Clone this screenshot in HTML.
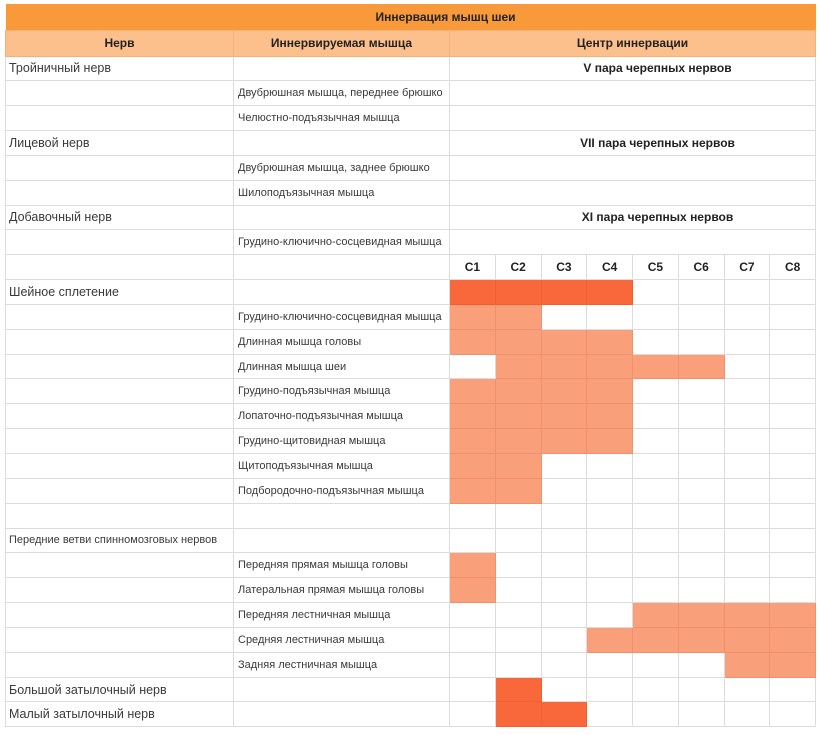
<!DOCTYPE html>
<html><head><meta charset="utf-8"><style>
html,body{margin:0;padding:0;background:#fff;width:819px;height:735px;overflow:hidden}
table{position:absolute;left:5px;top:4px;border-collapse:collapse;table-layout:fixed;width:810px;font-family:"Liberation Sans",sans-serif;color:#3a3a3a}
td{border:1px solid #dcdcdc;padding:0;height:24.85px;box-sizing:border-box;white-space:nowrap;overflow:hidden}
tr.t td{height:26px;background:#f99a3a;border:none;text-align:center;font-weight:bold;font-size:12px;color:#222;padding-left:70px}
tr.h td{height:26px;background:#fcc08c;border-color:#f3b07a;text-align:center;font-weight:bold;font-size:12px;color:#222}
.n{font-size:12.5px;padding-left:3px}
.n2{font-size:11px;padding-left:3px}
.m{font-size:11px;padding-left:4px}
.cr{text-align:center;font-weight:bold;font-size:12px;color:#222;padding-left:50px}
.ch{text-align:center;font-weight:bold;font-size:12px;color:#222}
.d{background:#f9683a;border-color:#f0602e}
.l{background:#f9a07a;border-color:#f09070}
</style></head><body>
<table>
<colgroup><col style="width:228px"><col style="width:216px"><col span="8" style="width:45.75px"></colgroup>
<tr class="t"><td colspan="10">Иннервация мышц шеи</td></tr>
<tr class="h"><td>Нерв</td><td>Иннервируемая мышца</td><td colspan="8">Центр иннервации</td></tr>
<tr><td class="n">Тройничный нерв</td><td></td><td colspan="8" class="cr">V пара черепных нервов</td></tr>
<tr><td></td><td class="m">Двубрюшная мышца, переднее брюшко</td><td colspan="8"></td></tr>
<tr><td></td><td class="m">Челюстно-подъязычная мышца</td><td colspan="8"></td></tr>
<tr><td class="n">Лицевой нерв</td><td></td><td colspan="8" class="cr">VII пара черепных нервов</td></tr>
<tr><td></td><td class="m">Двубрюшная мышца, заднее брюшко</td><td colspan="8"></td></tr>
<tr><td></td><td class="m">Шилоподъязычная мышца</td><td colspan="8"></td></tr>
<tr><td class="n">Добавочный нерв</td><td></td><td colspan="8" class="cr">XI пара черепных нервов</td></tr>
<tr><td></td><td class="m">Грудино-ключично-сосцевидная мышца</td><td colspan="8"></td></tr>
<tr><td></td><td></td><td class="ch">C1</td><td class="ch">C2</td><td class="ch">C3</td><td class="ch">C4</td><td class="ch">C5</td><td class="ch">C6</td><td class="ch">C7</td><td class="ch">C8</td></tr>
<tr><td class="n">Шейное сплетение</td><td></td><td class="d"></td><td class="d"></td><td class="d"></td><td class="d"></td><td></td><td></td><td></td><td></td></tr>
<tr><td></td><td class="m">Грудино-ключично-сосцевидная мышца</td><td class="l"></td><td class="l"></td><td></td><td></td><td></td><td></td><td></td><td></td></tr>
<tr><td></td><td class="m">Длинная мышца головы</td><td class="l"></td><td class="l"></td><td class="l"></td><td class="l"></td><td></td><td></td><td></td><td></td></tr>
<tr><td></td><td class="m">Длинная мышца шеи</td><td></td><td class="l"></td><td class="l"></td><td class="l"></td><td class="l"></td><td class="l"></td><td></td><td></td></tr>
<tr><td></td><td class="m">Грудино-подъязычная мышца</td><td class="l"></td><td class="l"></td><td class="l"></td><td class="l"></td><td></td><td></td><td></td><td></td></tr>
<tr><td></td><td class="m">Лопаточно-подъязычная мышца</td><td class="l"></td><td class="l"></td><td class="l"></td><td class="l"></td><td></td><td></td><td></td><td></td></tr>
<tr><td></td><td class="m">Грудино-щитовидная мышца</td><td class="l"></td><td class="l"></td><td class="l"></td><td class="l"></td><td></td><td></td><td></td><td></td></tr>
<tr><td></td><td class="m">Щитоподъязычная мышца</td><td class="l"></td><td class="l"></td><td></td><td></td><td></td><td></td><td></td><td></td></tr>
<tr><td></td><td class="m">Подбородочно-подъязычная мышца</td><td class="l"></td><td class="l"></td><td></td><td></td><td></td><td></td><td></td><td></td></tr>
<tr><td></td><td></td><td></td><td></td><td></td><td></td><td></td><td></td><td></td><td></td></tr>
<tr><td class="n2">Передние ветви спинномозговых нервов</td><td></td><td></td><td></td><td></td><td></td><td></td><td></td><td></td><td></td></tr>
<tr><td></td><td class="m">Передняя прямая мышца головы</td><td class="l"></td><td></td><td></td><td></td><td></td><td></td><td></td><td></td></tr>
<tr><td></td><td class="m">Латеральная прямая мышца головы</td><td class="l"></td><td></td><td></td><td></td><td></td><td></td><td></td><td></td></tr>
<tr><td></td><td class="m">Передняя лестничная мышца</td><td></td><td></td><td></td><td></td><td class="l"></td><td class="l"></td><td class="l"></td><td class="l"></td></tr>
<tr><td></td><td class="m">Средняя лестничная мышца</td><td></td><td></td><td></td><td class="l"></td><td class="l"></td><td class="l"></td><td class="l"></td><td class="l"></td></tr>
<tr><td></td><td class="m">Задняя лестничная мышца</td><td></td><td></td><td></td><td></td><td></td><td></td><td class="l"></td><td class="l"></td></tr>
<tr><td class="n">Большой затылочный нерв</td><td></td><td></td><td class="d"></td><td></td><td></td><td></td><td></td><td></td><td></td></tr>
<tr><td class="n">Малый затылочный нерв</td><td></td><td></td><td class="d"></td><td class="d"></td><td></td><td></td><td></td><td></td><td></td></tr>
</table>
</body></html>
